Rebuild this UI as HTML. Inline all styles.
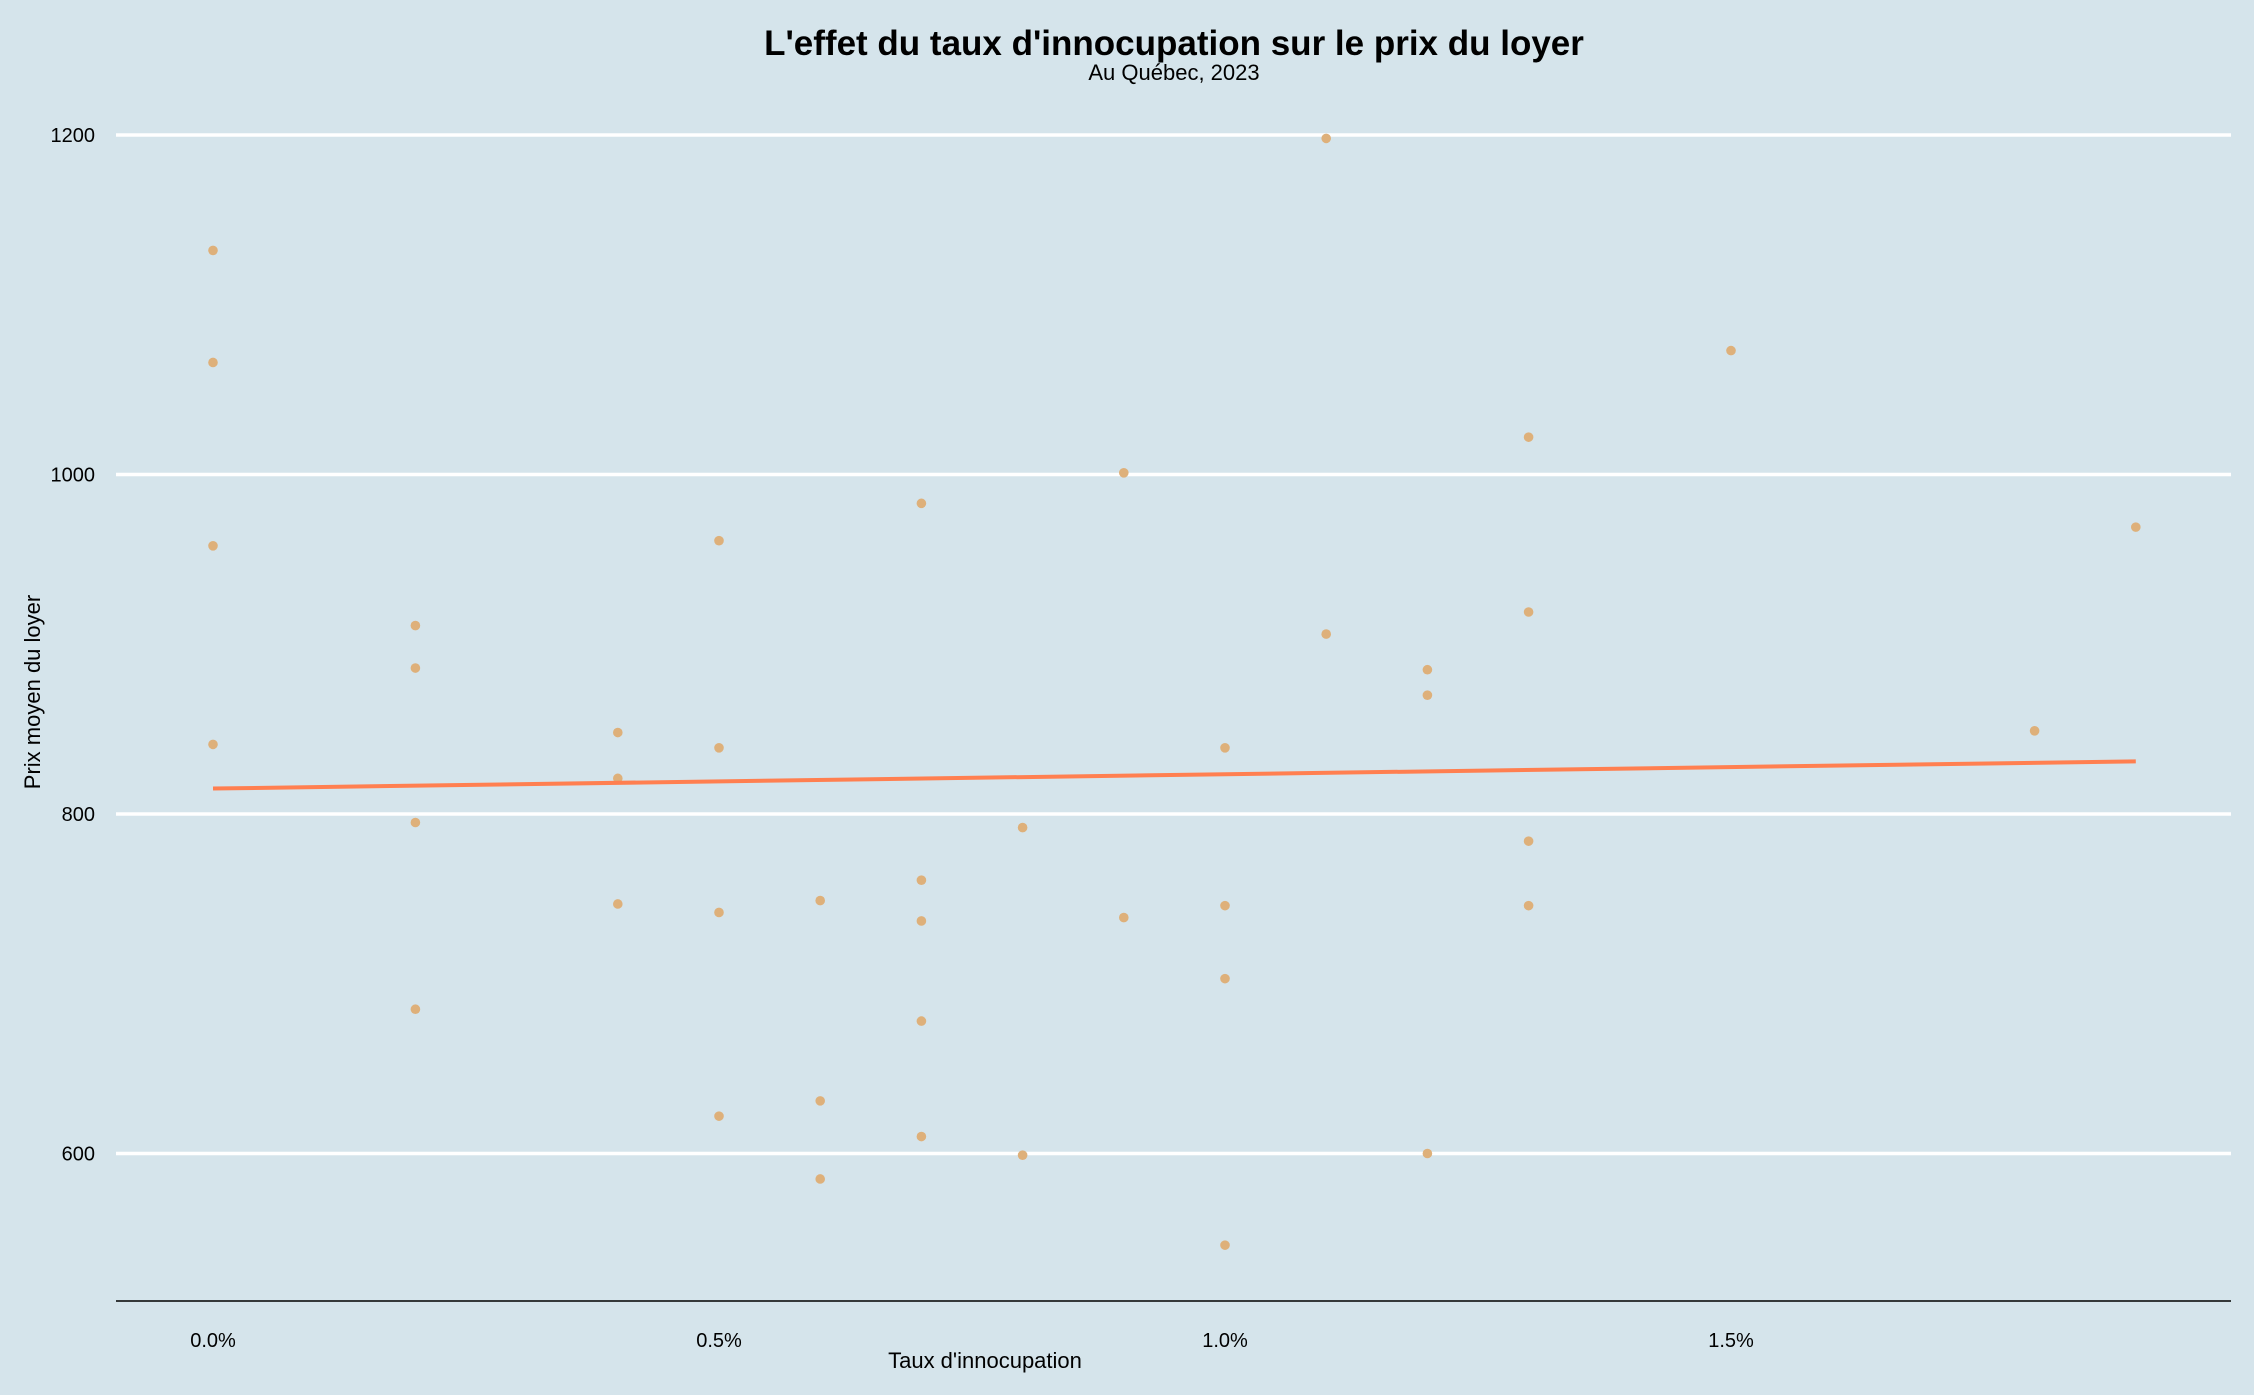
<!DOCTYPE html>
<html><head><meta charset="utf-8"><style>
html,body{margin:0;padding:0;background:#d5e4eb;}
svg{display:block;font-family:"Liberation Sans",Arial,sans-serif;}
</style></head><body>
<svg id="chart" width="2254" height="1395" viewBox="0 0 2254 1395">
<rect width="2254" height="1395" fill="#d5e4eb"/>
<text x="1174" y="55" text-anchor="middle" font-size="35" font-weight="bold" fill="#000">L'effet du taux d'innocupation sur le prix du loyer</text>
<text x="1174" y="80" text-anchor="middle" font-size="22" fill="#000">Au Québec, 2023</text>
<g id="grid"></g>
<line x1="116" y1="1301" x2="2231" y2="1301" stroke="#000" stroke-width="1.5"/>
<g id="xticks"></g><g id="yticks"></g>
<g id="points"></g>
<g id="trend"></g>
<text x="985" y="1368" text-anchor="middle" font-size="22" fill="#000">Taux d'innocupation</text>
<text transform="translate(40,692) rotate(-90)" text-anchor="middle" font-size="22" fill="#000">Prix moyen du loyer</text>
</svg>
<script>
const xRates=[0,0,0,0,0.2,0.2,0.2,0.2,0.4,0.4,0.4,0.5,0.5,0.5,0.5,0.6,0.6,0.6,0.7,0.7,0.7,0.7,0.7,0.8,0.8,0.9,0.9,1.0,1.0,1.0,1.0,1.1,1.1,1.2,1.2,1.2,1.3,1.3,1.3,1.3,1.5,1.8,1.9];
const yRents=[1132,1066,958,841,911,886,795,685,848,821,747,961,839,742,622,749,631,585,983,761,737,678,610,792,599,1001,739,839,746,703,546,1198,906,885,870,600,1022,919,784,746,1073,849,969];
const xTicks=[0,0.5,1.0,1.5];
const xTickLabels=["0.0%","0.5%","1.0%","1.5%"];
const yTicks=[600,800,1000,1200];
const trendX=[0,1.9];
const trendY=[815,831];
const NS="http://www.w3.org/2000/svg";
function sx(v){return 213+v*1012;}
function sy(v){return 135+(1200-v)*1.6975;}
function mk(tag,attrs,parent){const e=document.createElementNS(NS,tag);for(const k in attrs)e.setAttribute(k,attrs[k]);document.getElementById(parent).appendChild(e);return e;}
yTicks.forEach(t=>{
 const g=mk('line',{x1:116,x2:2231,y1:sy(t),y2:sy(t),stroke:'#fff','stroke-width':3.5},'grid');
 
 
 const l=mk('text',{x:95,y:sy(t)+7,'text-anchor':'end','font-size':20,fill:'#000'},'yticks');
 l.textContent=t;
 
 
});
xTicks.forEach((t,i)=>{
 const l=mk('text',{x:sx(t),y:1347,'text-anchor':'middle','font-size':20,fill:'#000'},'xticks');
 l.textContent=xTickLabels[i];
 
 
});
xRates.forEach((x,i)=>{
 const c=mk('circle',{cx:sx(x),cy:sy(yRents[i]),r:4.8,fill:'#deb07a'},'points');
 
 
});
const tl=mk('line',{x1:sx(trendX[0]),y1:sy(trendY[0]),x2:sx(trendX[1]),y2:sy(trendY[1]),stroke:'#ff7f50','stroke-width':4},'trend');


</script>
</body></html>
